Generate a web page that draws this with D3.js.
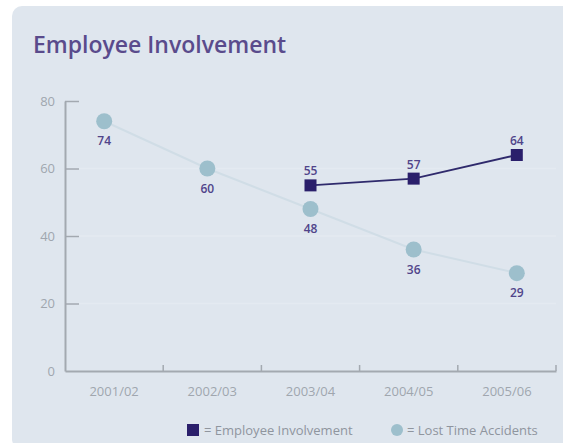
<!DOCTYPE html>
<html>
<head>
<meta charset="utf-8">
<script src="https://cdn.jsdelivr.net/npm/d3@7"></script>
<style>
  html, body { margin: 0; padding: 0; background: #fff; }
  svg { display: block; font-family: "Open Sans", "Noto Sans", sans-serif; }
</style>
</head>
<body>
<script>
// chart data
const years = ["2001/02", "2002/03", "2003/04", "2004/05", "2005/06"];
const lostTime = [74, 60, 48, 36, 29];             // Lost Time Accidents
const involvement = [null, null, 55, 57, 64];      // Employee Involvement
const yTicks = [0, 20, 40, 60, 80];
const legendLabels = ["= Employee Involvement", "= Lost Time Accidents"];

var width = 563, height = 443;

var svg = d3.select('body').append('svg')
    .attr('width', width)
    .attr('height', height);

// panel behind everything
svg.append('rect')
    .attr('x', 12).attr('y', 6)
    .attr('width', width).attr('height', height)
    .attr('rx', 10)
    .attr('fill', '#dfe6ee');

svg.append('text')
    .attr('x', 33).attr('y', 53)
    .attr('font-size', 23)
    .attr('font-weight', 600)
    .attr('fill', '#5a4b8c')
    .text('Employee Involvement');

const plotLeft = 65, plotRight = 556, plotTop = 101, plotBottom = 371;

const y = d3.scaleLinear().domain([0, 80]).range([plotBottom, plotTop]);
// bands for the category labels / tick marks
const xBand = d3.scaleBand().domain(years).range([plotLeft, plotRight]);
// marks sit on their own point scale
const xPt = d3.scalePoint().domain(years).range([plotLeft, plotRight]).padding(0.38);

const axisColor = '#a3a9b0';

// faint grid lines
svg.append('g')
    .selectAll('line')
    .data(yTicks.filter(d => d > 0 && d < 80))
    .join('line')
    .attr('x1', plotLeft).attr('x2', plotRight)
    .attr('y1', d => y(d)).attr('y2', d => y(d))
    .attr('stroke', '#e4eaf1')
    .attr('stroke-width', 1.5);

// y axis
const gy = svg.append('g')
    .attr('transform', `translate(${plotLeft},0)`)
    .call(d3.axisLeft(y).tickValues(yTicks).tickSizeInner(-14).tickSizeOuter(0).tickPadding(10));
gy.select('.domain').attr('stroke', axisColor).attr('stroke-width', 2);
gy.selectAll('.tick line').attr('stroke', axisColor).attr('stroke-width', 1.5)
    .filter(d => d === 0).remove();
gy.selectAll('.tick text')
    .attr('fill', '#a0a6ae')
    .attr('font-size', 13)
    .attr('font-family', '"Open Sans", sans-serif');

// x axis
const gx = svg.append('g')
    .attr('transform', `translate(0,${plotBottom})`)
    .call(d3.axisBottom(xBand).tickSize(0).tickPadding(16));
gx.select('.domain').attr('stroke', axisColor).attr('stroke-width', 2);
gx.selectAll('.tick text')
    .attr('fill', '#a0a6ae')
    .attr('font-size', 13)
    .attr('font-family', '"Open Sans", sans-serif');
// small ticks at band edges, pointing up
gx.append('g')
    .selectAll('line')
    .data(years)
    .join('line')
    .attr('x1', d => xBand(d) + xBand.bandwidth())
    .attr('x2', d => xBand(d) + xBand.bandwidth())
    .attr('y1', 0).attr('y2', -6)
    .attr('stroke', axisColor)
    .attr('stroke-width', 1.5);

// lost time accidents
const ltData = years.map((c, i) => ({ c: c, v: lostTime[i] }));
svg.append('path')
    .datum(ltData)
    .attr('fill', 'none')
    .attr('stroke', '#d0dde6')
    .attr('stroke-width', 2)
    .attr('d', d3.line().x(d => xPt(d.c)).y(d => y(d.v)));

svg.append('g')
    .selectAll('circle')
    .data(ltData)
    .join('circle')
    .attr('cx', d => xPt(d.c))
    .attr('cy', d => y(d.v))
    .attr('r', 8)
    .attr('fill', '#9dbfcc');

svg.append('g')
    .selectAll('text')
    .data(ltData)
    .join('text')
    .attr('x', d => xPt(d.c))
    .attr('y', d => y(d.v) + 24)
    .attr('text-anchor', 'middle')
    .attr('font-size', 12)
    .attr('font-weight', 600)
    .attr('fill', '#50448a')
    .text(d => d.v);

// employee involvement
const eiData = years.map((c, i) => ({ c: c, v: involvement[i] })).filter(d => d.v != null);
svg.append('path')
    .datum(eiData)
    .attr('fill', 'none')
    .attr('stroke', '#2f2a6c')
    .attr('stroke-width', 2)
    .attr('d', d3.line().x(d => xPt(d.c)).y(d => y(d.v)));

const sq = 12;
svg.append('g')
    .selectAll('rect')
    .data(eiData)
    .join('rect')
    .attr('x', d => xPt(d.c) - sq / 2)
    .attr('y', d => y(d.v) - sq / 2)
    .attr('width', sq).attr('height', sq)
    .attr('fill', '#2a1f6b');

svg.append('g')
    .selectAll('text')
    .data(eiData)
    .join('text')
    .attr('x', d => xPt(d.c))
    .attr('y', d => y(d.v) - 10)
    .attr('text-anchor', 'middle')
    .attr('font-size', 12)
    .attr('font-weight', 600)
    .attr('fill', '#50448a')
    .text(d => d.v);

// legend
const lg = svg.append('g').attr('font-size', 13).attr('fill', '#8f959e');
lg.append('rect')
    .attr('x', 187).attr('y', 424).attr('width', 12).attr('height', 12)
    .attr('fill', '#2a1f6b');
lg.append('text').attr('x', 204).attr('y', 435).text(legendLabels[0]);
lg.append('circle')
    .attr('cx', 397).attr('cy', 430).attr('r', 6)
    .attr('fill', '#9dbfcc');
lg.append('text').attr('x', 407).attr('y', 435).text(legendLabels[1]);
</script>
</body>
</html>
